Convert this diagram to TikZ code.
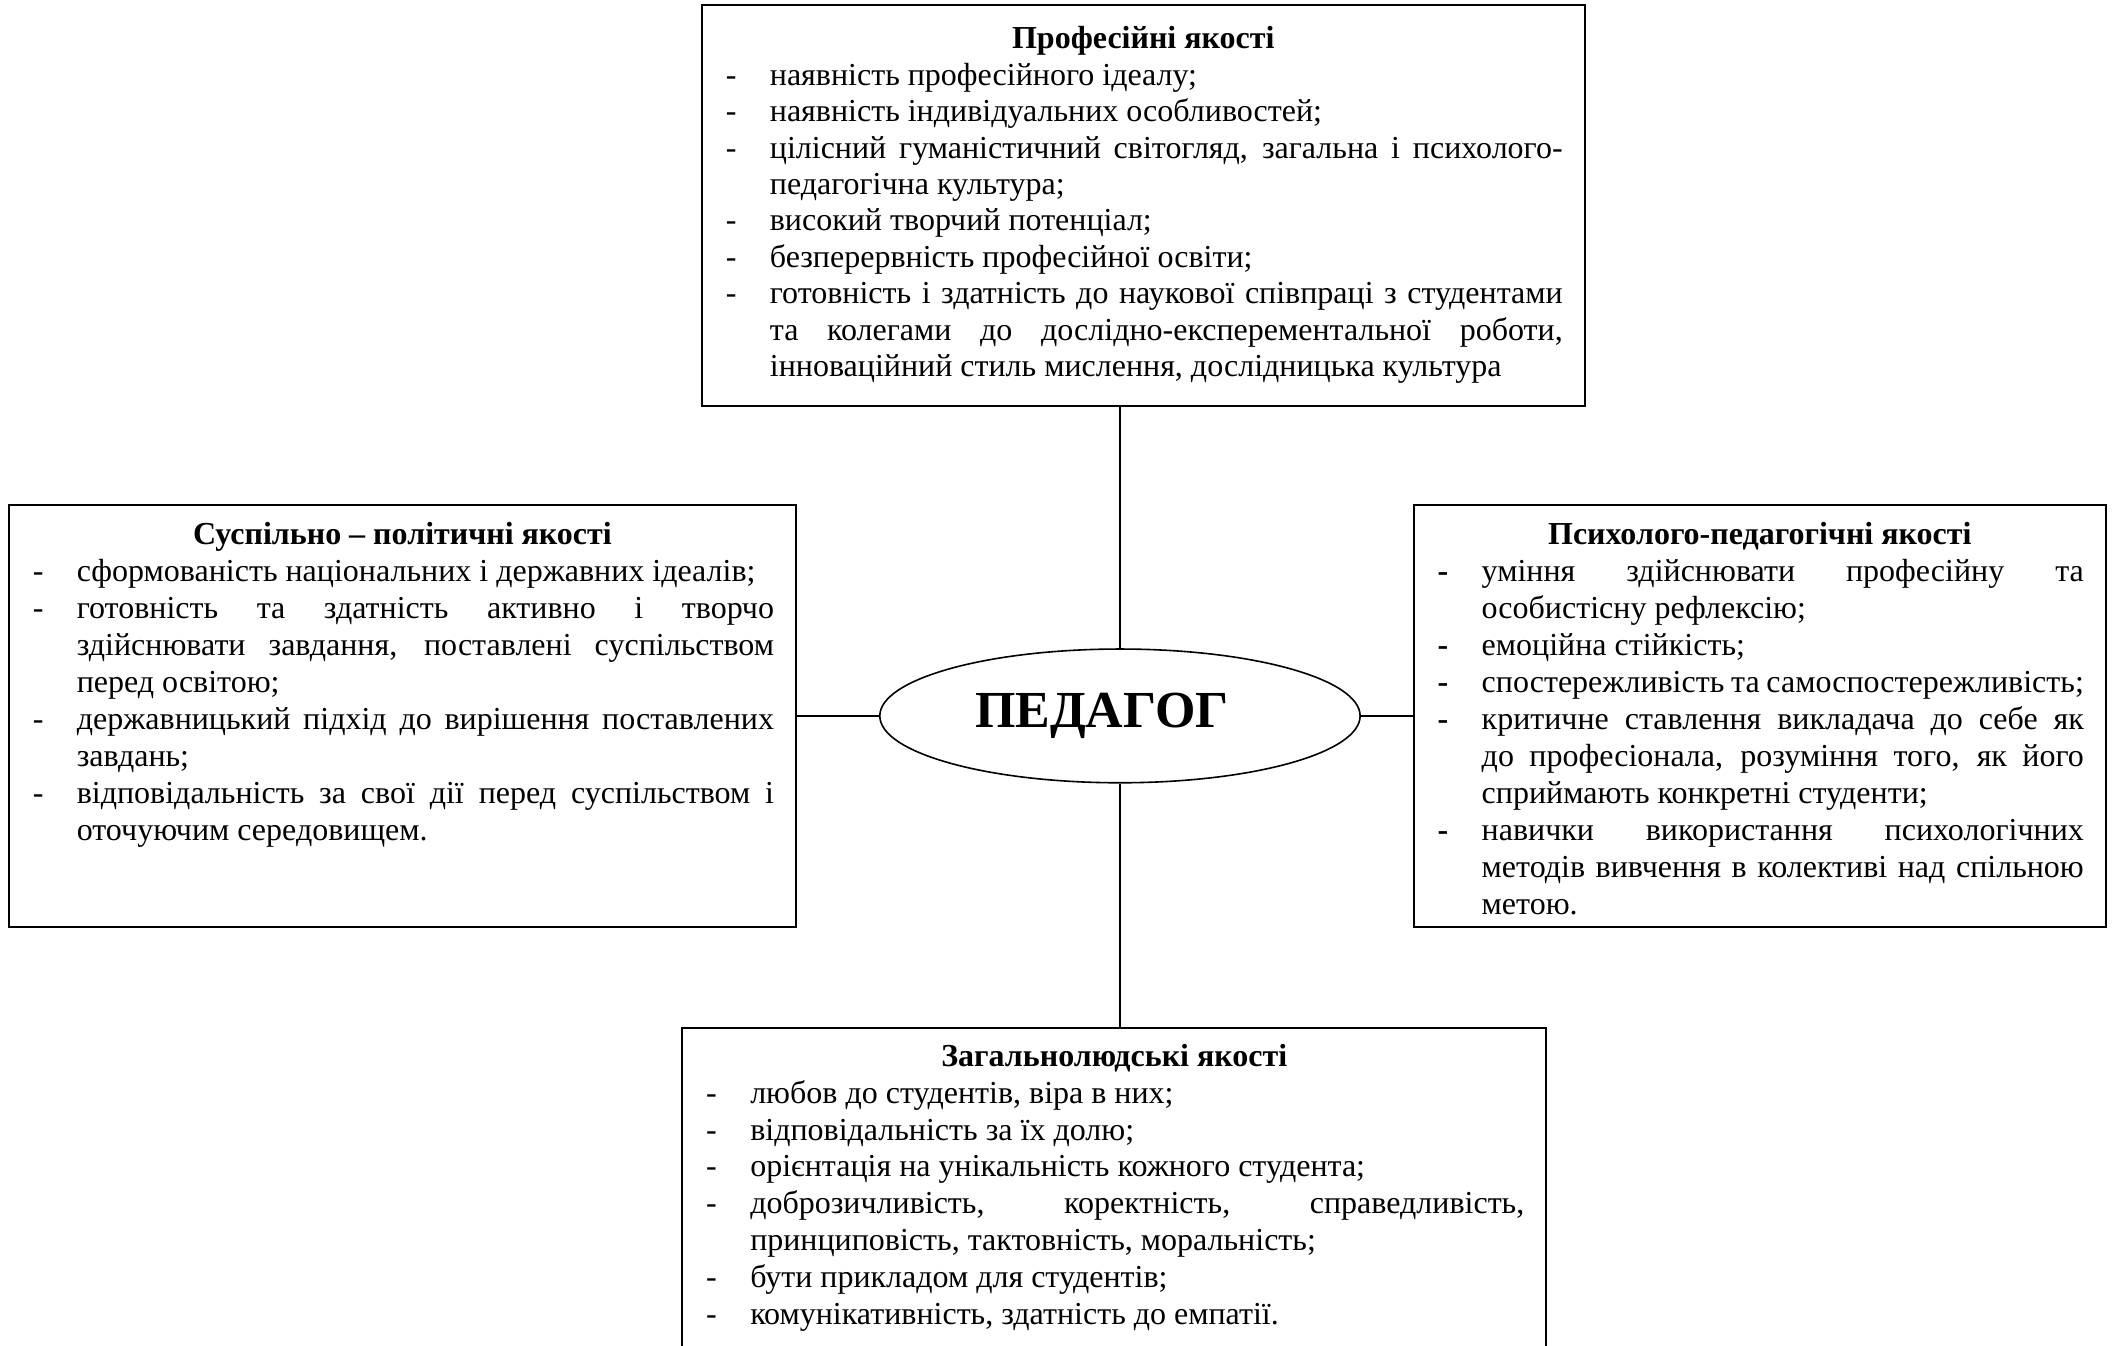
\documentclass[tikz,border=0pt]{standalone}
\usepackage{fontspec}
\setmainfont{Liberation Serif}
\usetikzlibrary{positioning, shapes.geometric}
\tikzset{
    qbox/.style={draw, line width=1pt, inner xsep=11pt, inner ysep=5pt,
                 font=\fontsize{16pt}{#1}\selectfont},
    qbox/.default=18.5pt,
    hub/.style={ellipse, draw, line width=0.8pt, minimum width=84.4mm,
                minimum height=23.5mm, inner sep=0pt,
                font=\fontsize{26pt}{30pt}\selectfont\bfseries},
    link/.style={-, line width=0.8pt},
}
\hyphenpenalty=10000
\tolerance=9999
\newcommand{\qhead}[2][14.5pt]{{\centering\bfseries\rule{0pt}{#1}#2\par}}
\newcommand{\qitem}[2][-]{\par\hangindent=23pt\hangafter=1\noindent
    \makebox[23pt][l]{\hspace{1pt}#1}#2\par}

\begin{document}
\begin{tikzpicture}
    \useasboundingbox (0,0) rectangle (371.3mm,-236.5mm);
    % centre
    \node[hub] (ped) at (196.8mm,-125.8mm) {ПЕДАГОГ\kern18pt};
    % top: professional
    \node[qbox=18.2pt, above=42.35mm of ped, xshift=4.1mm] (prof) {\parbox[c][67mm][t]{147.4mm}{%
        \qhead[17pt]{Професійні якості}
        \qitem{наявність професійного ідеалу;}
        \qitem{наявність індивідуальних особливостей;}
        \qitem{цілісний гуманістичний світогляд, загальна і психолого-\linebreak педагогічна культура;}
        \qitem{високий творчий потенціал;}
        \qitem{безперервність професійної освіти;}
        \qitem{готовність і здатність до наукової співпраці з студентами\linebreak
               та колегами до дослідно-експерементальної роботи,\linebreak
               інноваційний стиль мислення, дослідницька культура}}};
    % left: social and political
    \node[qbox, left=14.4mm of ped] (soc) {\parbox[c][70.6mm][t]{130.6mm}{%
        \qhead{Суспільно – політичні якості}
        \qitem{сформованість національних і державних ідеалів;}
        \qitem{готовність та здатність активно і творчо\linebreak
               здійснювати завдання, поставлені суспільством\linebreak
               перед освітою;}
        \qitem{державницький підхід до вирішення поставлених\linebreak
               завдань;}
        \qitem{відповідальність за свої дії перед суспільством і\linebreak
               оточуючим середовищем.}}};
    % right: psychological and pedagogical
    \node[qbox, right=9.1mm of ped] (psy) {\parbox[c][70.6mm][t]{113.9mm}{%
        \qhead{Психолого-педагогічні якості}
        \qitem[\textbf{-}]{уміння здійснювати професійну та\linebreak
               особистісну рефлексію;}
        \qitem[\textbf{-}]{емоційна стійкість;}
        \qitem[\textbf{-}]{спостережливість та самоспостережливість;}
        \qitem[\textbf{-}]{критичне ставлення викладача до себе як\linebreak
               до професіонала, розуміння того, як його\linebreak
               сприймають конкретні студенти;}
        \qitem[\textbf{-}]{навички використання психологічних\linebreak
               методів вивчення в колективі над спільною\linebreak
               метою.}}};
    % bottom: general human
    \node[qbox=18.4pt, below=42.7mm of ped, xshift=-1mm] (gen) {\parbox[c][59.7mm][t]{144.1mm}{%
        \qhead{Загальнолюдські якості}
        \qitem{любов до студентів, віра в них;}
        \qitem{відповідальність за їх долю;}
        \qitem{орієнтація на унікальність кожного студента;}
        \qitem{доброзичливість, коректність, справедливість,\linebreak
               принциповість, тактовність, моральність;}
        \qitem{бути прикладом для студентів;}
        \qitem{комунікативність, здатність до емпатії.}}};
    \draw[link] (prof.south -| ped.north) -- (ped.north);
    \draw[link] (soc.east) -- (ped.west);
    \draw[link] (ped.east) -- (psy.west);
    \draw[link] (ped.south) -- (ped.south |- gen.north);
\end{tikzpicture}
\end{document}
